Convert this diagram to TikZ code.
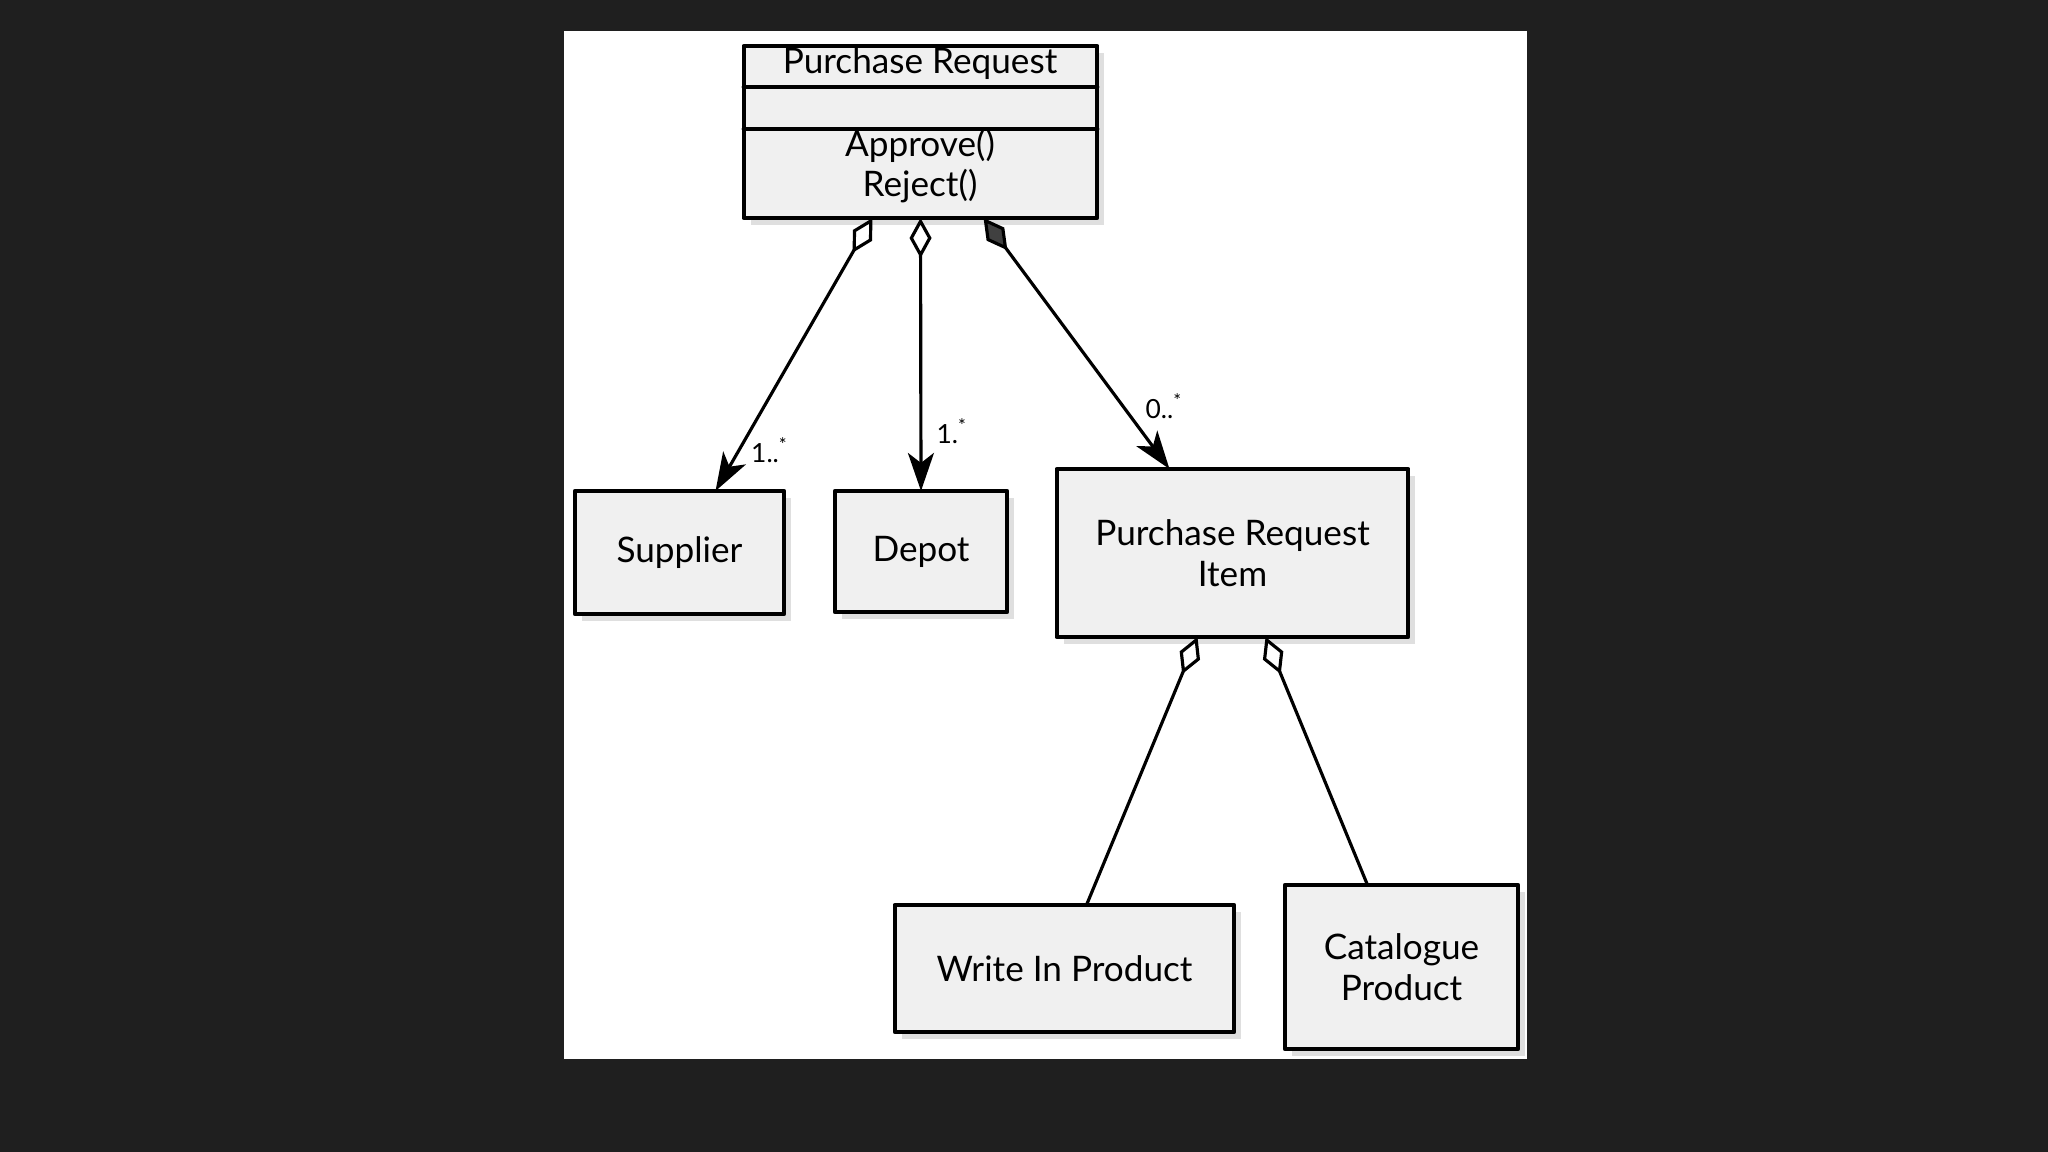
\documentclass[tikz,border=0pt]{standalone}
\usepackage{fontspec}
\setmainfont{Lato}
\usetikzlibrary{arrows.meta,shadows}
\begin{document}
\begin{tikzpicture}[x=0.01cm,y=-0.01cm,line join=round,line cap=round,font=\fontsize{10}{11.5}\selectfont]
	\tikzset{
		cls/.style={draw=black,line width=1.3pt,fill=gray!12,align=center,inner sep=0pt,outer sep=0pt,
			drop shadow={opacity=0.25,shadow xshift=2pt,shadow yshift=-2pt}},
		mult/.style={font=\fontsize{7.5}{8}\selectfont,inner sep=1pt},
		agg/.style={line width=0.9pt,{Diamond[open,length=0.4cm,width=0.22cm,line width=0.9pt]}-{Stealth[length=0.38cm,width=0.26cm,inset=0.1cm]}},
		comp/.style={line width=0.9pt,{Diamond[fill=black!75,length=0.4cm,width=0.22cm,line width=0.9pt]}-{Stealth[length=0.38cm,width=0.26cm,inset=0.1cm]}},
		aggl/.style={line width=0.9pt,{Diamond[open,length=0.4cm,width=0.22cm,line width=0.9pt]}-}
	}
	% board and sheet
	\fill[black!88] (0,0) rectangle (2048,1152);
	\fill[white] (564,31) rectangle (1527,1059);
	% classes
	\node[cls,minimum width=3.53cm,minimum height=1.72cm] (pr) at (920.5,132) {};
	\draw[line width=1.3pt] ([yshift=-0.41cm]pr.north west) -- ([yshift=-0.41cm]pr.north east);
	\draw[line width=1.3pt] ([yshift=-0.83cm]pr.north west) -- ([yshift=-0.83cm]pr.north east);
	\node (prname) at (920,64) {Purchase Request};
	\node[align=center] (props) at (920,166) {Approve()\\Reject()};
	\node[cls,minimum width=2.09cm,minimum height=1.23cm] (sup) at (679.5,552.5) {Supplier};
	\node[cls,minimum width=1.72cm,minimum height=1.21cm] (dep) at (921,551.5) {Depot};
	\node[cls,minimum width=3.51cm,minimum height=1.68cm] (pri) at (1232.5,553) {Purchase Request\\Item};
	\node[cls,minimum width=3.39cm,minimum height=1.27cm] (wip) at (1064.5,968.5) {Write In Product};
	\node[cls,minimum width=2.33cm,minimum height=1.64cm] (cat) at (1401.5,967) {Catalogue\\Product};
	% associations
	\draw[agg] ([xshift=-0.48cm]pr.south) -- ([xshift=0.36cm]sup.north)
		node[mult,pos=0.85,right=2pt] (m1) {1..\textsuperscript{*}};
	\draw[agg] (pr.south) -- (dep.north)
		node[mult,pos=0.78,right=3pt] (m2) {1.\textsuperscript{*}};
	\draw[comp] ([xshift=0.63cm]pr.south) -- ([xshift=-0.63cm]pri.north)
		node[mult,pos=0.75,right=5pt] (m3) {0..\textsuperscript{*}};
	\draw[aggl] ([xshift=-0.35cm]pri.south) -- ([xshift=0.22cm]wip.north);
	\draw[aggl] ([xshift=0.33cm]pri.south) -- ([xshift=-0.34cm]cat.north);
\end{tikzpicture}
\end{document}
